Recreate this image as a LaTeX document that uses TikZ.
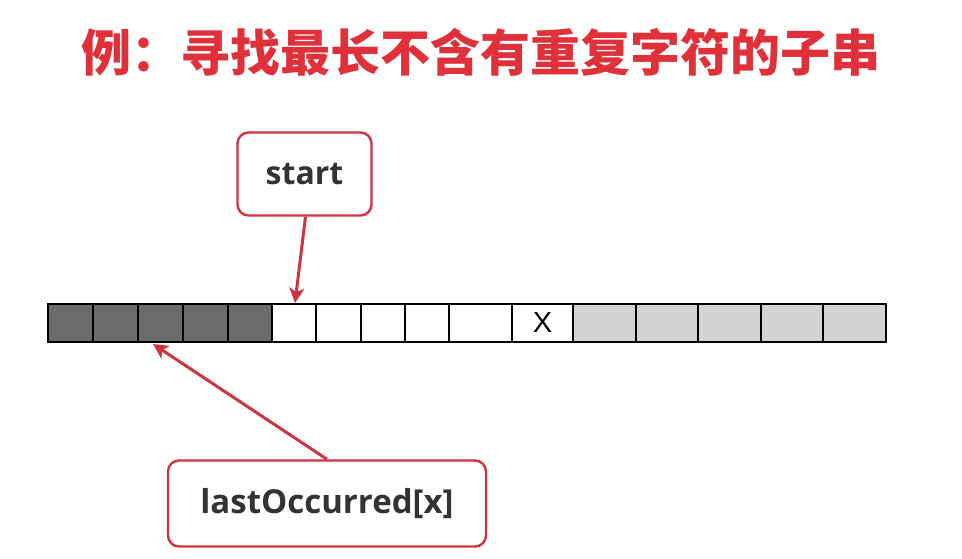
\documentclass[tikz,border=0pt]{standalone}
\usepackage{fontspec}
\setmainfont{Open Sans}
\newfontfamily\cjk{Noto Sans CJK SC}
\newfontfamily\arialx{Liberation Sans}
\usetikzlibrary{arrows.meta}
\definecolor{titlered}{HTML}{E0313B}
\definecolor{boxred}{HTML}{CF3440}
\definecolor{darkcell}{HTML}{6B6B6B}
\definecolor{lightcell}{HTML}{D3D3D3}
\definecolor{txtgray}{HTML}{333333}
\tikzset{
  cell/.style={draw=black, line width=1.8pt, inner sep=0pt},
  callout/.style={draw=boxred, line width=2.4pt, rounded corners=11pt, fill=white, inner sep=0pt,
    font=\bfseries, text=txtgray},
  pointer/.style={draw=boxred, line width=3pt, -{Stealth[length=15pt,width=15pt,inset=4pt]}}
}
\begin{document}
\begin{tikzpicture}[x=1pt,y=-1pt]
\useasboundingbox (0,0) rectangle (962,558);
\fill[white] (0,0) rectangle (962,558);
\node[text=titlered, font=\cjk\fontsize{50}{55}\selectfont\bfseries] (title) at (481,52) {例：寻找最长不含有重复字符的子串};
% cells
\foreach \a/\b/\c [count=\i] in {48/93/darkcell,93/138/darkcell,138/183/darkcell,183/228/darkcell,228/272/darkcell,
  272/316/white,316/361/white,361/405/white,405/449/white,449/512/white,512/573/white,
  573/636/lightcell,636/698/lightcell,698/761/lightcell,761/823/lightcell,823/886/lightcell}
  {\path[cell, fill=\c] (\a,304) rectangle (\b,342);
   \coordinate (c\i) at ({(\a+\b)/2},323);}
\node[font=\arialx\fontsize{29}{32}\selectfont] (x) at (c11) {X};
\coordinate (starttip) at (295,303);
\coordinate (lasttip) at (153,344);
\node[callout, minimum width=134pt, minimum height=83pt, font=\fontsize{32}{36}\selectfont\bfseries] (start) at (304.5,174) {start};
\node[callout, minimum width=318pt, minimum height=86pt, font=\fontsize{33}{36}\selectfont\bfseries] (last) at (327,503.5) {lastOccurred[x]};
\draw[pointer] (start.south) ++(1,0) -- (starttip);
\draw[pointer] (last.north) -- (lasttip);
\end{tikzpicture}
\end{document}
